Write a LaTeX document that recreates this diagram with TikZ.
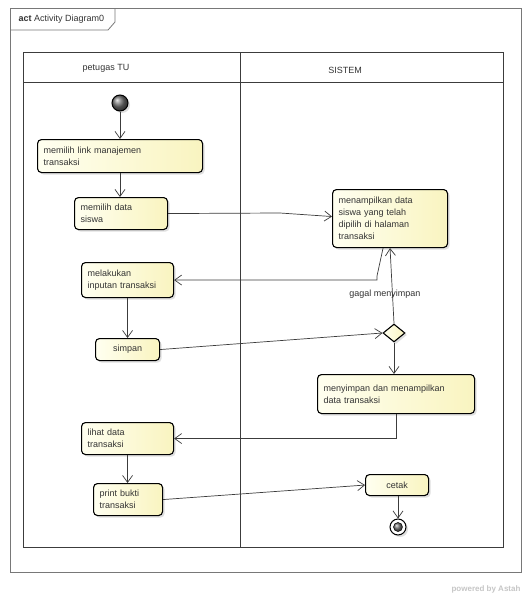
\documentclass[tikz,border=0pt]{standalone}
\usepackage{fontspec}
\setmainfont{Liberation Sans}
\usetikzlibrary{arrows.meta,shapes.geometric,shadows}

\definecolor{krem}{RGB}{255,255,240}
\definecolor{kuning}{RGB}{249,244,192}
\definecolor{garis}{RGB}{60,60,60}
\definecolor{bingkai}{RGB}{120,120,120}

\newcommand{\teks}{\fontsize{9}{12}\selectfont}
\newcommand{\lajurkiri}{23}
\newcommand{\lajurkanan}{503}
\newcommand{\lajurtengah}{240}
\newcommand{\lajuratas}{52}
\newcommand{\lajurbawah}{547}
\newcommand{\kepala}{82}

\begin{document}
\begin{tikzpicture}[x=1pt, y=-1pt,
  aksi/.style={draw=black, line width=1.1pt, rounded corners=4pt,
    left color=krem, right color=kuning,
    drop shadow={shadow xshift=2pt, shadow yshift=-2pt, opacity=0.25, fill=gray},
    anchor=north west, align=left, inner xsep=6pt, inner ysep=2pt,
    font=\teks, text=black!80},
  panah/.style={draw=garis, line width=0.7pt, -{Straight Barb[length=7pt,width=10pt]}},
  bola/.style={circle, draw=black, line width=1pt, shading=ball, ball color=black!55, inner sep=0pt}]

  \useasboundingbox (0,0) rectangle (526,597);
  \fill[white] (0,0) rectangle (526,597);

  \draw [bingkai, line width=0.8pt] (10,8) rectangle (521,572);
  \draw [bingkai, line width=0.8pt] (10,30) -- (108,30) -- (115,22) -- (115,8);
  \node [anchor=west, font=\teks, text=black!80] (judul) at (15,19) {\textbf{act} Activity Diagram0};

  \draw [garis, line width=0.9pt] (\lajurkiri,\lajuratas) rectangle (\lajurkanan,\lajurbawah);
  \draw [garis, line width=0.9pt] (\lajurkiri,\kepala) -- (\lajurkanan,\kepala);
  \draw [garis, line width=0.9pt] (\lajurtengah,\lajuratas) -- (\lajurtengah,\lajurbawah);
  \node [font=\teks, text=black!80] (petugas) at (106,68) {petugas TU};
  \node [font=\teks, text=black!80] (sistem) at (345,70) {SISTEM};

  \node [bola, minimum size=16pt, drop shadow={shadow xshift=2pt, shadow yshift=-2pt, opacity=0.25, fill=gray}] (mulai) at (120,103) {};

  \node [aksi, text width=153pt, minimum height=33pt] (pilihlink) at (37,139) {memilih link manajemen\\transaksi};
  \node [aksi, text width=81pt, minimum height=32pt] (pilihdata) at (74,197) {memilih data\\siswa};
  \node [aksi, text width=103pt, minimum height=58pt] (tampildata) at (332,189) {menampilkan data\\siswa yang telah\\dipilih di halaman\\transaksi};
  \node [aksi, text width=80pt, minimum height=35pt] (input) at (81,262) {melakukan\\inputan transaksi};
  \node [aksi, align=center, minimum width=64pt, minimum height=22pt] (simpan) at (95,338) {simpan};
  \node [diamond, draw=black, line width=1.1pt, left color=krem, right color=kuning,
    minimum width=22pt, minimum height=18pt, inner sep=0pt,
    drop shadow={shadow xshift=2pt, shadow yshift=-2pt, opacity=0.25, fill=gray}] (keputusan) at (394,333) {};
  \node [font=\teks, text=black!80] (gagal) at (385,294) {gagal menyimpan};
  \node [aksi, text width=145pt, minimum height=39pt] (menyimpan) at (317,374) {menyimpan dan menampilkan\\data transaksi};
  \node [aksi, text width=80pt, minimum height=32pt] (lihat) at (81,422) {lihat data\\transaksi};
  \node [aksi, text width=57pt, minimum height=32pt] (print) at (93,483) {print bukti\\transaksi};
  \node [aksi, align=center, minimum width=63pt, minimum height=21pt] (cetak) at (365,474) {cetak};

  \node [circle, draw=black, line width=1pt, fill=white, minimum size=16pt, inner sep=0pt,
    drop shadow={shadow xshift=2pt, shadow yshift=-2pt, opacity=0.25, fill=gray}] (akhir) at (398,527) {};
  \node [bola, line width=0.5pt, minimum size=9pt] (akhirdalam) at (akhir) {};

  \coordinate (b1) at (280,213);
  \coordinate (b2) at (377,276);

  \draw [panah] (mulai) -- (mulai |- pilihlink.north);
  \draw [panah] (pilihlink.south -| mulai) -- (mulai |- pilihdata.north);
  \draw [panah] (pilihdata.east) -- (b1) -- ([yshift=2pt]tampildata.west);
  \draw [panah] ([xshift=-7pt]tampildata.south) -- (b2) -- (b2 |- input.east) -- (input.east);
  \draw [panah] (keputusan.north) -- (tampildata.south);
  \draw [panah] (input.south) -- (input.south |- simpan.north);
  \draw [panah] (simpan.east) -- (keputusan.west);
  \draw [panah] (keputusan.south) -- (keputusan.south |- menyimpan.north);
  \draw [panah] (menyimpan.south) -- (menyimpan.south |- lihat.east) -- (lihat.east);
  \draw [panah] (lihat.south) -- (lihat.south |- print.north);
  \draw [panah] (print.east) -- (cetak.west);
  \draw [panah] (cetak.south -| akhir) -- (akhir.north);

  \node [anchor=east, text=gray!45, font=\fontsize{8}{8}\selectfont\bfseries] (astah) at (524,589) {powered by Astah};
\end{tikzpicture}
\end{document}
